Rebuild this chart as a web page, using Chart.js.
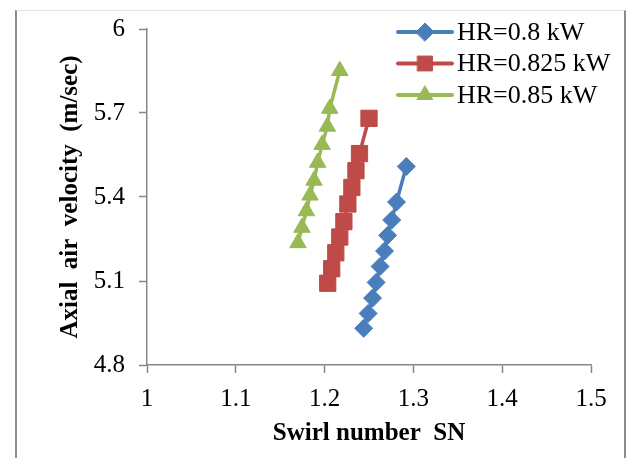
<!DOCTYPE html>
<html>
<head>
<meta charset="utf-8">
<script src="https://cdn.jsdelivr.net/npm/chart.js@4.4.0/dist/chart.umd.min.js"></script>
<style>
  html, body { margin: 0; padding: 0; background: #fff; }
  #wrap { position: relative; width: 631px; height: 458px; overflow: hidden; }
  #frame {
    position: absolute; left: 15px; top: 10px; width: 607px; height: 460px;
    border-left: 2px solid #8c8c8c; border-right: 2px solid #8c8c8c;
    border-top: 1px solid #e4e4e4; pointer-events: none;
  }
</style>
</head>
<body>
<div id="wrap">
  <canvas id="myChart" width="631" height="458"></canvas>
  <div id="frame"></div>
</div>
<script>
// values
const seriesNames = ['HR=0.8 kW', 'HR=0.825 kW', 'HR=0.85 kW'];

const swirl08 = [1.244, 1.249, 1.254, 1.258, 1.2625, 1.2675, 1.271, 1.2756, 1.281, 1.292];
const vel08 = [4.931, 4.984, 5.039, 5.095, 5.152, 5.207, 5.263, 5.318, 5.382, 5.509];

const swirl0825 = [1.2035, 1.208, 1.2126, 1.2171, 1.2217, 1.2262, 1.2307, 1.2353, 1.2393, 1.250];
const vel0825 = [5.092, 5.144, 5.201, 5.257, 5.312, 5.375, 5.434, 5.494, 5.555, 5.681];

const swirl085 = [1.170, 1.1745, 1.1795, 1.1836, 1.1881, 1.1922, 1.1972, 1.2031, 1.2058, 1.2171];
const vel085 = [5.236, 5.291, 5.350, 5.406, 5.459, 5.523, 5.587, 5.652, 5.716, 5.851];

const xTicks = [1, 1.1, 1.2, 1.3, 1.4, 1.5];
const yTicks = [4.8, 5.1, 5.4, 5.7, 6];

const colors = ['#4a7ebb', '#be4b48', '#98b954'];
const markers = ['rectRot', 'rect', 'triangle'];
const sizes = [9, 11.5, 9.5];

function pairs(xs, ys) {
  return xs.map((x, i) => ({ x: x, y: ys[i] }));
}

const serif = 'Liberation Serif';

// draw one marker like chart.js does (used for the legend)
function marker(ctx, style, x, y, r) {
  ctx.beginPath();
  if (style === 'rectRot') {
    ctx.moveTo(x - r, y); ctx.lineTo(x, y - r); ctx.lineTo(x + r, y); ctx.lineTo(x, y + r);
  } else if (style === 'rect') {
    const s = r * Math.SQRT1_2;
    ctx.rect(x - s, y - s, 2 * s, 2 * s);
  } else {
    const a = 2 * Math.PI / 3;
    ctx.moveTo(x, y - r);
    ctx.lineTo(x + Math.sin(a) * r, y - Math.cos(a) * r);
    ctx.lineTo(x + Math.sin(2 * a) * r, y - Math.cos(2 * a) * r);
  }
  ctx.closePath();
  ctx.fill();
  ctx.stroke();
}

// legend sits inside the plot, top right
const insideLegend = {
  id: 'insideLegend',
  afterDraw(chart) {
    const ctx = chart.ctx;
    chart.data.datasets.forEach((ds, i) => {
      const y = 32 + i * 31.5;
      ctx.save();
      ctx.strokeStyle = ds.borderColor;
      ctx.fillStyle = ds.backgroundColor;
      ctx.lineWidth = 4;
      ctx.lineCap = 'round';
      ctx.beginPath();
      ctx.moveTo(398, y);
      ctx.lineTo(452, y);
      ctx.stroke();
      ctx.lineWidth = 1;
      marker(ctx, markers[i], 425, y, i === 1 ? 10.5 : 9);
      ctx.fillStyle = '#000';
      ctx.font = '26px "' + serif + '"';
      ctx.textBaseline = 'middle';
      ctx.fillText(ds.label, 457, y + 1);
      ctx.restore();
    });
  }
};

const allData = [pairs(swirl08, vel08), pairs(swirl0825, vel0825), pairs(swirl085, vel085)];

new Chart(document.getElementById('myChart'), {
  type: 'scatter',
  data: {
    datasets: seriesNames.map((name, i) => ({
      label: name,
      data: allData[i],
      showLine: true,
      borderColor: colors[i],
      backgroundColor: colors[i],
      borderWidth: 3.5,
      pointStyle: markers[i],
      pointRadius: sizes[i],
      pointHoverRadius: sizes[i],
      pointBorderWidth: 1,
      pointBorderColor: colors[i],
      pointBackgroundColor: colors[i],
      tension: 0
    }))
  },
  options: {
    responsive: false,
    animation: false,
    layout: { padding: { left: 0, right: 40, top: 24, bottom: 0 } },
    plugins: {
      legend: { display: false },
      tooltip: { enabled: false }
    },
    scales: {
      x: {
        type: 'linear',
        min: xTicks[0],
        max: xTicks[xTicks.length - 1],
        afterBuildTicks: s => { s.ticks = xTicks.map(v => ({ value: v })); },
        ticks: {
          color: '#000',
          font: { family: serif, size: 25 },
          padding: 11,
          maxRotation: 0,
          autoSkip: false,
          callback: v => String(Math.round(v * 10) / 10)
        },
        grid: { drawOnChartArea: false, drawTicks: true, tickLength: 8, tickColor: '#878787', tickWidth: 1.5 },
        border: { display: true, color: '#878787', width: 1.5 },
        title: {
          display: true,
          text: 'Swirl number  SN',
          color: '#000',
          font: { family: serif, size: 25, weight: 'bold' },
          padding: { top: 0, bottom: 9 }
        },
        afterFit: s => { s.height = 93; }
      },
      y: {
        type: 'linear',
        min: yTicks[0],
        max: yTicks[yTicks.length - 1],
        afterBuildTicks: s => { s.ticks = yTicks.map(v => ({ value: v })); },
        ticks: {
          color: '#000',
          font: { family: serif, size: 25 },
          padding: 14,
          callback: v => String(Math.round(v * 10) / 10)
        },
        grid: { drawOnChartArea: false, drawTicks: true, tickLength: 8, tickColor: '#878787', tickWidth: 1.5 },
        border: { display: true, color: '#878787', width: 1.5 },
        title: {
          display: true,
          text: 'Axial  air  velocity  (m/sec)',
          color: '#000',
          font: { family: serif, size: 25, weight: 'bold' },
          padding: { top: 56, bottom: 0 }
        },
        afterFit: s => { s.width = 147; }
      }
    }
  },
  plugins: [insideLegend]
});
</script>
</body>
</html>
